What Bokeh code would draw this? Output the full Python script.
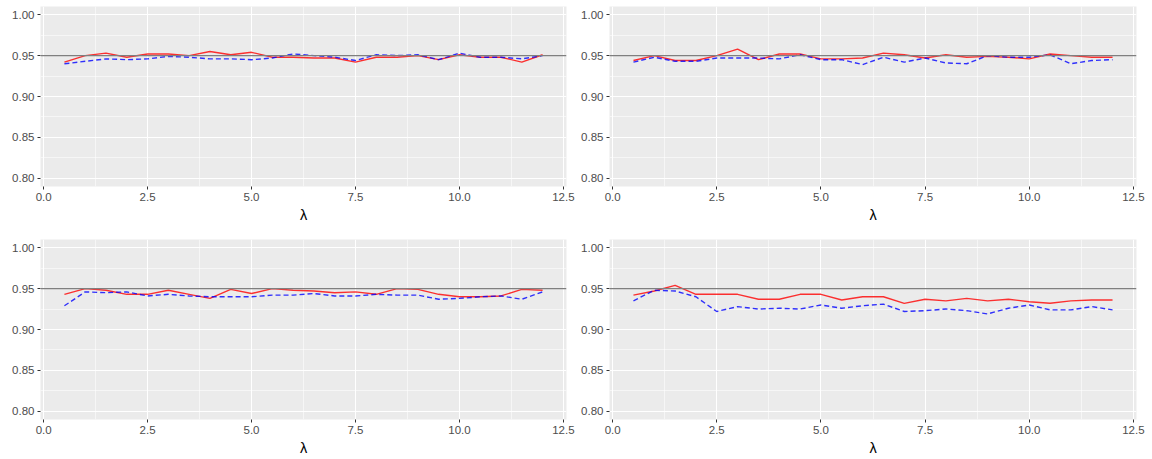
from bokeh.plotting import figure
from bokeh.layouts import gridplot
from bokeh.models import FixedTicker, PrintfTickFormatter, Span
from bokeh.embed import file_html
from bokeh.resources import INLINE

lam = [0.5, 1.0, 1.5, 2.0, 2.5, 3.0, 3.5, 4.0, 4.5, 5.0, 5.5, 6.0,
       6.5, 7.0, 7.5, 8.0, 8.5, 9.0, 9.5, 10.0, 10.5, 11.0, 11.5, 12.0]

red_1 = [0.942, 0.950, 0.953, 0.948, 0.952, 0.952, 0.950, 0.955, 0.951, 0.954, 0.948, 0.948,
         0.947, 0.947, 0.942, 0.948, 0.948, 0.950, 0.945, 0.951, 0.948, 0.948, 0.942, 0.951]
blue_1 = [0.940, 0.943, 0.946, 0.945, 0.946, 0.949, 0.948, 0.946, 0.946, 0.945, 0.947, 0.952,
          0.950, 0.948, 0.944, 0.951, 0.950, 0.951, 0.945, 0.953, 0.948, 0.948, 0.946, 0.950]

red_2 = [0.944, 0.950, 0.944, 0.944, 0.950, 0.958, 0.945, 0.952, 0.952, 0.946, 0.946, 0.947,
         0.953, 0.951, 0.947, 0.951, 0.948, 0.949, 0.948, 0.946, 0.952, 0.950, 0.948, 0.948]
blue_2 = [0.942, 0.948, 0.943, 0.943, 0.947, 0.947, 0.947, 0.946, 0.951, 0.945, 0.945, 0.939,
          0.948, 0.942, 0.947, 0.941, 0.940, 0.950, 0.948, 0.948, 0.951, 0.940, 0.944, 0.945]

red_3 = [0.943, 0.950, 0.948, 0.943, 0.943, 0.948, 0.943, 0.938, 0.949, 0.944, 0.950, 0.948,
         0.947, 0.945, 0.946, 0.943, 0.950, 0.949, 0.943, 0.940, 0.940, 0.941, 0.949, 0.948]
blue_3 = [0.929, 0.946, 0.945, 0.946, 0.941, 0.943, 0.941, 0.940, 0.940, 0.940, 0.942, 0.942,
          0.944, 0.941, 0.941, 0.943, 0.942, 0.942, 0.937, 0.938, 0.940, 0.941, 0.937, 0.946]

red_4 = [0.942, 0.947, 0.954, 0.943, 0.943, 0.943, 0.937, 0.937, 0.943, 0.943, 0.936, 0.940,
         0.940, 0.932, 0.937, 0.935, 0.938, 0.935, 0.937, 0.934, 0.932, 0.935, 0.936, 0.936]
blue_4 = [0.935, 0.948, 0.947, 0.940, 0.922, 0.928, 0.925, 0.926, 0.925, 0.930, 0.926, 0.929,
          0.931, 0.922, 0.923, 0.925, 0.923, 0.919, 0.926, 0.930, 0.924, 0.924, 0.928, 0.924]

x_ticks = [0.0, 2.5, 5.0, 7.5, 10.0, 12.5]
x_minor = [1.25, 3.75, 6.25, 8.75, 11.25]
y_ticks = [0.80, 0.85, 0.90, 0.95, 1.00]
y_minor = [0.825, 0.875, 0.925, 0.975]
target = 0.95
x_label = "λ"

FONT = "Liberation Sans"


def make_panel(red, blue, width, height, bl, br, bt, bb):
    p = figure(width=width, height=height, x_range=(-0.075, 12.575), y_range=(0.79, 1.01),
               output_backend="svg", toolbar_location=None,
               min_border_left=bl, min_border_right=br, min_border_top=bt, min_border_bottom=bb)
    p.background_fill_color = "#EBEBEB"
    p.border_fill_color = "white"
    p.outline_line_color = None

    p.xaxis.ticker = FixedTicker(ticks=x_ticks, minor_ticks=x_minor)
    p.yaxis.ticker = FixedTicker(ticks=y_ticks, minor_ticks=y_minor)
    p.xaxis.formatter = PrintfTickFormatter(format="%.1f")
    p.yaxis.formatter = PrintfTickFormatter(format="%.2f")
    for ax in (p.xaxis[0], p.yaxis[0]):
        ax.axis_line_color = None
        ax.major_tick_line_color = "#333333"
        ax.major_tick_out = 3
        ax.major_tick_in = 0
        ax.minor_tick_line_color = None
        ax.major_label_text_font = FONT
        ax.major_label_text_font_size = "11.5px"
        ax.major_label_text_color = "#4D4D4D"
        ax.major_label_standoff = 2
    p.xaxis.axis_label = x_label
    p.xaxis.axis_label_text_font = FONT
    p.xaxis.axis_label_text_font_size = "14.5px"
    p.xaxis.axis_label_text_font_style = "normal"
    p.xaxis.axis_label_text_color = "black"
    p.xaxis.axis_label_standoff = 3

    for g in (p.xgrid[0], p.ygrid[0]):
        g.grid_line_color = "white"
        g.grid_line_width = 1.1
        g.minor_grid_line_color = "white"
        g.minor_grid_line_width = 0.55

    p.add_layout(Span(location=target, dimension="width", line_color="#7F7F7F", line_width=1.2))
    p.line(lam, red, line_color="#FF0000", line_alpha=0.8, line_width=1.4)
    p.line(lam, blue, line_color="#0000FF", line_alpha=0.8, line_width=1.4, line_dash="5 3")
    return p


p1 = make_panel(red_1, blue_1, 576, 229, 40, 10, 6, 43)
p2 = make_panel(red_2, blue_2, 576, 229, 33, 16, 6, 43)
p3 = make_panel(red_3, blue_3, 576, 230, 40, 10, 10, 40)
p4 = make_panel(red_4, blue_4, 576, 230, 33, 16, 10, 40)

grid = gridplot([[p1, p2], [p3, p4]], toolbar_location=None)

open("out.html", "w").write(file_html(grid, INLINE))
